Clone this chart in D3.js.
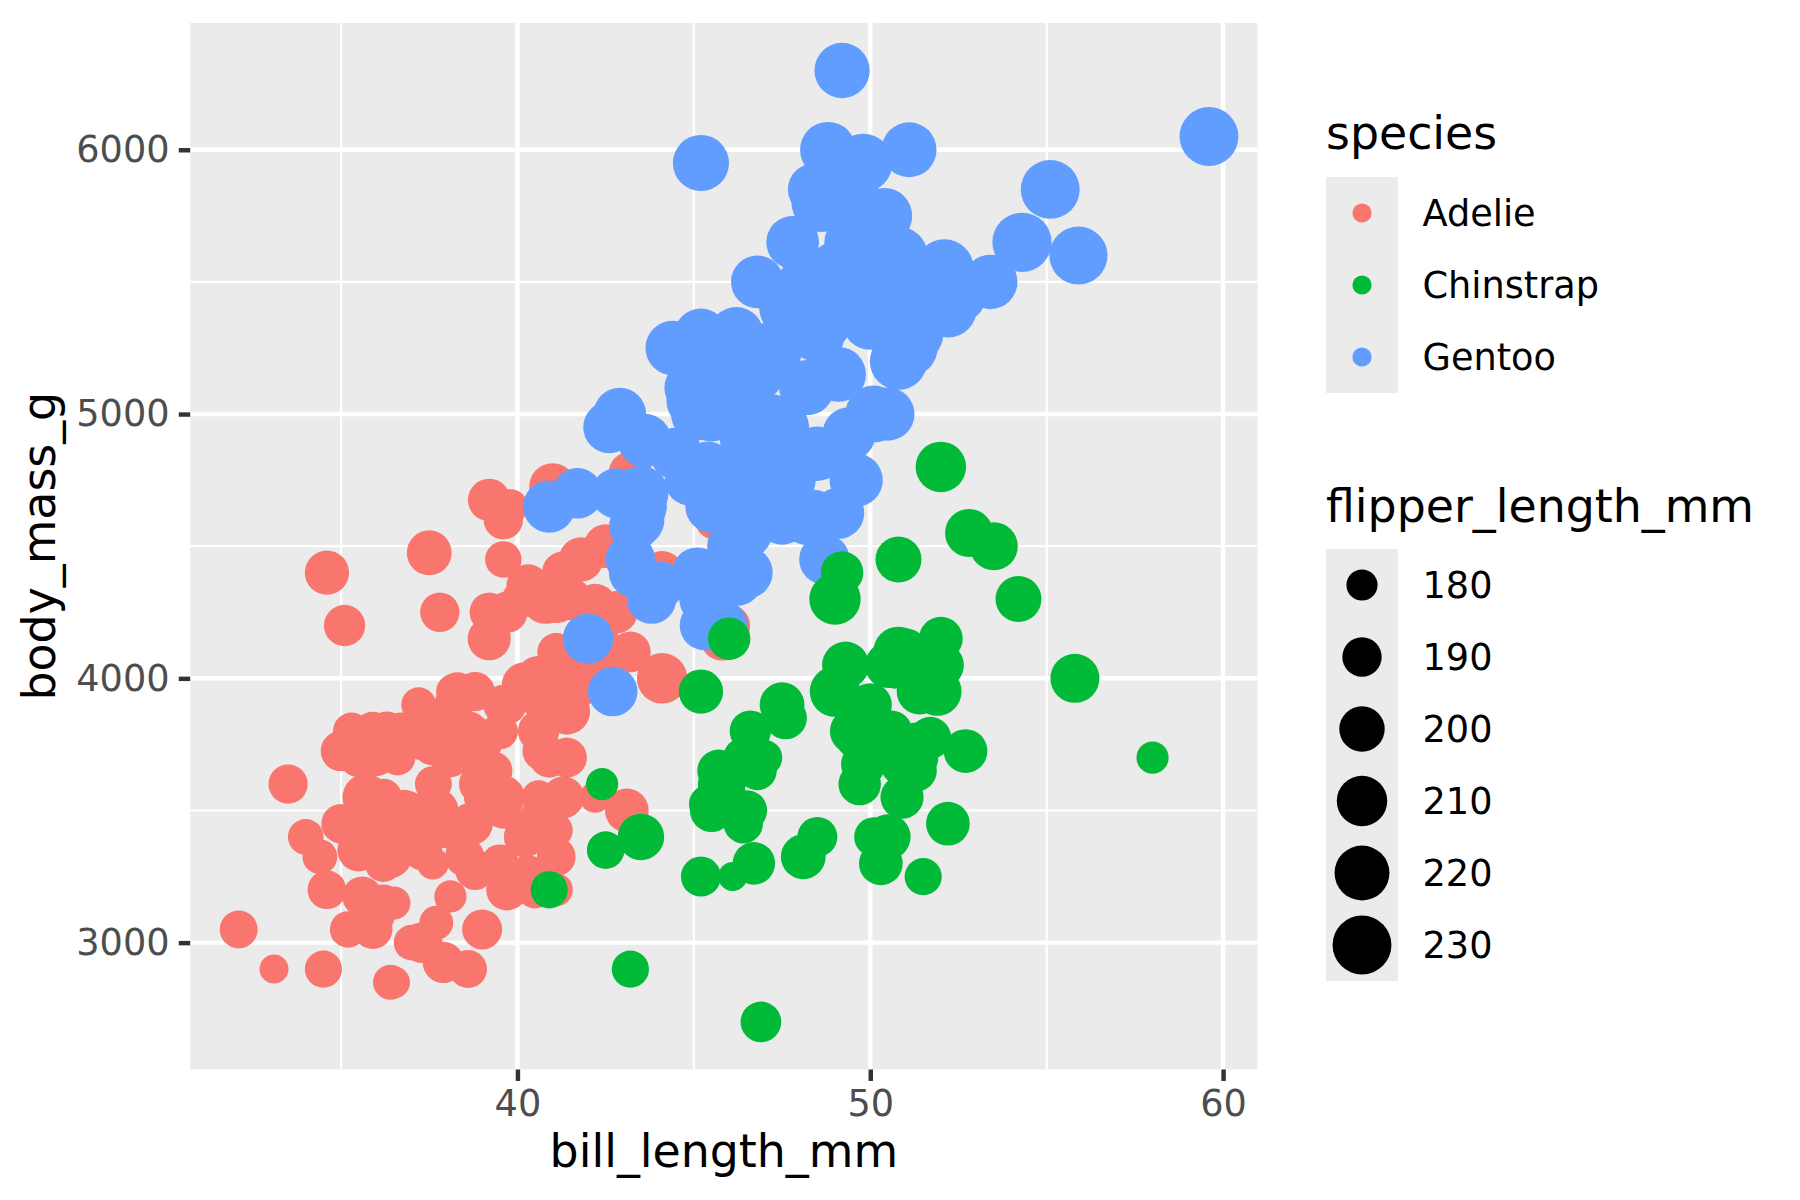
<!DOCTYPE html>
<html lang="en">
<head>
<meta charset="utf-8">
<title>penguins</title>
<script src="https://cdn.jsdelivr.net/npm/d3@7"></script>
<style>
body { margin: 0; background: #fff; }
svg { display: block; font-family: "DejaVu Sans", sans-serif; }
</style>
</head>
<body>
<script>
// [bill_length_mm, body_mass_g, flipper_length_mm]
var adelie = [
[39.1,3750,181],[39.5,3800,186],[40.3,3250,195],[36.7,3450,193],[39.3,3650,190],[38.9,3625,181],[39.2,4675,195],
[41.1,3200,182],[38.6,3800,191],[34.6,4400,198],[36.6,3700,185],[38.7,3450,195],[42.5,4500,197],[34.4,3325,184],[46.0,4200,194],[37.8,3400,174],
[37.7,3600,180],[35.9,3800,189],[38.2,3950,185],[38.8,3800,180],[35.3,3800,187],[40.6,3550,183],[40.5,3200,187],[37.9,3150,172],[40.5,3950,180],[39.5,3250,178],
[37.2,3900,178],[39.5,3300,188],[40.9,3900,184],[36.4,3325,195],[39.2,4150,196],[38.8,3950,190],[42.2,3550,180],[37.6,3300,181],[39.8,4650,184],[36.5,3150,182],
[40.8,3900,195],[36.0,3100,186],[44.1,4400,196],[37.0,3000,185],[39.6,4600,190],[41.1,3425,182],[36.0,3450,190],[42.3,4150,191],[39.6,3500,186],
[40.1,4300,188],[35.0,3450,190],[42.0,4050,200],[34.5,2900,187],[41.4,3700,191],[39.0,3550,186],[40.6,3800,193],[36.5,2850,181],[37.6,3750,194],[35.7,3150,185],
[41.3,4400,195],[37.6,3600,185],[41.1,4050,192],[36.4,2850,184],[41.6,3950,192],[35.5,3350,195],[41.1,4100,188],[35.9,3050,190],[41.8,4450,198],[33.5,3600,190],
[39.7,3900,190],[39.6,3550,196],[45.8,4150,197],[35.5,3700,190],[42.8,4250,195],[40.9,3700,191],[37.2,3900,184],[36.2,3550,187],[42.1,4000,195],[34.6,3200,189],
[42.9,4700,196],[36.7,3800,187],[35.1,4200,193],[37.3,3350,191],[41.3,3550,194],[36.3,3800,190],[36.9,3500,189],[38.3,3950,189],[38.9,3600,190],[35.7,3550,202],
[41.1,4300,205],[34.0,3400,185],[39.6,4450,186],[36.2,3300,187],[40.8,4300,208],[38.1,3700,190],[40.3,4350,196],[33.1,2900,178],[43.2,4100,192],[35.0,3725,192],
[41.0,4725,203],[37.7,3075,183],[37.8,4250,190],[37.9,2925,193],[39.7,3550,184],[38.6,3750,199],[38.2,3900,190],[38.1,3175,181],[43.2,4775,197],[38.1,3825,198],
[45.6,4600,191],[39.7,3200,193],[42.2,4275,197],[39.6,3900,191],[42.7,4075,196],[38.6,2900,188],[37.3,3775,199],[35.7,3350,189],[41.1,3325,189],[36.2,3150,187],
[37.7,3500,198],[40.2,3450,176],[41.4,3875,202],[35.2,3050,186],[40.6,4000,199],[38.8,3275,191],[41.5,4300,195],[39.0,3050,191],[44.1,4000,210],[38.5,3325,190],
[43.1,3500,197],[36.8,3500,193],[37.5,4475,199],[38.1,3425,187],[41.1,3900,190],[35.6,3175,191],[40.2,3975,200],[37.0,3400,185],[39.7,4250,193],[40.2,3400,193],
[40.6,3475,187],[32.1,3050,188],[40.7,3725,190],[37.3,3000,192],[39.0,3650,185],[39.2,4250,190],[36.6,3475,184],[36.0,3450,195],[37.8,3750,193],[36.0,3700,187],
[41.5,4000,201]
];

var gentoo = [
[46.1,4500,211],[50.0,5700,230],[48.7,4450,210],[50.0,5700,218],[47.6,5400,215],[46.5,4550,210],[45.4,4800,211],[46.7,5200,219],[43.3,4400,209],[46.8,5150,215],
[40.9,4650,214],[49.0,5550,216],[45.5,4650,214],[48.4,5850,213],[45.8,4200,210],[49.3,5850,217],[42.0,4150,210],[49.2,6300,221],[46.2,4800,209],[48.7,5350,222],
[50.2,5700,218],[45.1,5000,215],[46.5,4400,213],[46.3,5050,215],[42.9,5000,215],[46.1,5100,215],[47.8,5650,215],[48.2,4600,210],[50.0,5550,220],
[47.3,5250,222],[42.8,4700,209],[45.1,5050,207],[59.6,6050,230],[49.1,5150,220],[48.4,5400,220],[42.6,4950,213],[44.4,5250,219],[44.0,4350,208],[48.7,5350,208],
[42.7,3950,208],[49.6,5700,225],[45.3,4300,210],[49.6,4750,216],[50.5,5550,222],[43.6,4900,217],[45.5,4200,210],[50.5,5400,225],[44.9,5100,213],[45.2,5300,215],
[46.6,4850,210],[48.5,5300,220],[45.1,4400,210],[50.1,5000,225],[46.5,4900,217],[45.0,5050,220],[43.8,4300,208],[45.5,5000,220],[43.2,4450,208],[50.4,5550,224],
[45.3,4200,208],[46.2,5300,221],[45.7,4400,214],[54.3,5650,231],[45.8,4700,219],[49.8,5700,230],[49.5,5800,229],[43.5,4700,220],[50.7,5550,223],
[47.7,4750,216],[46.4,5000,221],[48.2,5100,221],[46.5,5200,217],[46.4,4700,216],[48.6,5800,230],[47.5,4600,209],[51.1,6000,220],[45.2,4750,215],[45.2,5950,223],
[49.1,4625,212],[52.5,5450,221],[47.4,4725,212],[50.0,5350,224],[44.9,4750,212],[50.8,5600,228],[43.4,4600,218],[51.3,5300,218],[47.5,4875,212],[52.1,5550,230],
[47.5,4950,218],[52.2,5400,228],[45.5,4750,212],[49.5,5650,224],[44.5,4850,214],[50.8,5200,226],[49.4,4925,216],[46.9,4875,222],[48.4,4625,203],[51.1,5250,225],
[48.5,4850,219],[55.9,5600,228],[47.2,4975,215],[49.1,5500,228],[46.8,5500,215],[41.7,4700,210],[53.4,5500,219],[43.3,4575,208],[48.1,5500,209],
[50.5,5000,216],[49.8,5950,229],[43.5,4650,213],[51.5,5500,230],[46.2,4375,217],[55.1,5850,230],[48.8,6000,222],[47.2,4925,214],[46.8,4850,215],
[50.4,5750,222],[45.2,5200,212],[49.9,5400,213]
];

var chinstrap = [
[46.5,3500,192],[50.0,3900,196],[51.3,3650,193],[45.4,3525,188],[52.7,3725,197],[45.2,3950,198],[46.1,3250,178],[51.3,3750,197],[46.0,4150,195],[51.3,3700,198],
[46.6,3800,193],[51.7,3775,194],[47.0,3700,185],[52.0,4050,201],[45.9,3575,190],[50.5,4050,201],[50.3,3300,197],[58.0,3700,181],[46.4,3450,190],[49.2,4400,195],
[42.4,3600,181],[48.5,3400,191],[43.2,2900,187],[50.6,3800,193],[46.7,3300,195],[52.0,4150,197],[50.5,3400,200],[49.5,3800,200],[46.4,3700,191],[52.8,4550,205],
[40.9,3200,187],[54.2,4300,201],[42.5,3350,187],[51.0,4100,203],[49.7,3600,195],[47.5,3900,199],[47.6,3850,195],[52.0,4800,210],[46.9,2700,192],[53.5,4500,205],
[49.0,3950,210],[46.2,3650,187],[50.9,3550,196],[45.5,3500,196],[50.9,3675,196],[50.8,4450,201],[50.1,3400,190],[49.0,4300,212],[51.5,3250,187],[49.8,3675,198],
[48.1,3325,199],[51.4,3950,201],[45.7,3600,193],[50.7,4050,203],[42.5,3350,187],[52.2,3450,197],[45.2,3250,191],[49.3,4050,203],[50.2,3800,202],[45.6,3525,194],
[51.9,3950,206],[46.8,3650,189],[45.7,3650,195],[55.8,4000,207],[43.5,3400,202],[49.6,3775,193],[50.8,4100,210],[50.2,3775,198]
];

var speciesNames = ["Adelie", "Chinstrap", "Gentoo"];
var speciesColors = ["#F8766D", "#00BA38", "#619CFF"];
var xMajor = [40, 50, 60], xMinor = [35, 45, 55];
var yMajor = [3000, 4000, 5000, 6000], yMinor = [3500, 4500, 5500];
var sizeBreaks = [180, 190, 200, 210, 220, 230];

var W = 1800, H = 1200;
var pLeft = 190.2, pRight = 1257.5, pTop = 22.9, pBottom = 1069.5;
var px = 300 / 72;            // pt -> px at 300 dpi
var lwd = 300 / 96;           // R lwd unit -> px

var all = adelie.concat(gentoo, chinstrap);

// ggplot default 5% expansion
var xr = d3.extent(all, function(d){ return d[0]; });
var yr = d3.extent(all, function(d){ return d[1]; });
var xe = (xr[1] - xr[0]) * 0.05, ye = (yr[1] - yr[0]) * 0.05;

var xScale = d3.scaleLinear().domain([xr[0] - xe, xr[1] + xe]).range([pLeft, pRight]);
var yScale = d3.scaleLinear().domain([yr[0] - ye, yr[1] + ye]).range([pBottom, pTop]);
var color = d3.scaleOrdinal().domain(speciesNames).range(speciesColors);

// size: area_pal(range = c(1, 6)) on rescaled flipper length
var fr = d3.extent(all, function(d){ return d[2]; });
var rescale = d3.scaleLinear().domain(fr).range([0, 1]);
var sizeScale = d3.scaleSqrt().domain([0, 1]).range([1, 6]);
function radius(size) {
  // shape 19: radius = 0.375 * fontsize, plus half the stroke
  var fontsize = size * 2.845276 + 0.5 * 3.7795 / 2;
  return 0.375 * fontsize * px + 0.5 * 3.7795 / 2 * lwd / 2;
}
function r(v) { return radius(sizeScale(rescale(v))); }

var svg = d3.select("body").append("svg")
  .attr("width", W).attr("height", H);

svg.append("rect").attr("width", W).attr("height", H).attr("fill", "#fff");

// panel
svg.append("rect")
  .attr("x", pLeft).attr("y", pTop)
  .attr("width", pRight - pLeft).attr("height", pBottom - pTop)
  .attr("fill", "#EBEBEB");

var grid = svg.append("g").attr("stroke", "#fff").attr("fill", "none");
grid.selectAll(".xminor").data(xMinor).enter().append("line")
  .attr("x1", function(d){ return xScale(d); }).attr("x2", function(d){ return xScale(d); })
  .attr("y1", pTop).attr("y2", pBottom).attr("stroke-width", 0.25 * 2.845276 * lwd);
grid.selectAll(".yminor").data(yMinor).enter().append("line")
  .attr("y1", function(d){ return yScale(d); }).attr("y2", function(d){ return yScale(d); })
  .attr("x1", pLeft).attr("x2", pRight).attr("stroke-width", 0.25 * 2.845276 * lwd);
grid.selectAll(".xmajor").data(xMajor).enter().append("line")
  .attr("x1", function(d){ return xScale(d); }).attr("x2", function(d){ return xScale(d); })
  .attr("y1", pTop).attr("y2", pBottom).attr("stroke-width", 0.5 * 2.845276 * lwd);
grid.selectAll(".ymajor").data(yMajor).enter().append("line")
  .attr("y1", function(d){ return yScale(d); }).attr("y2", function(d){ return yScale(d); })
  .attr("x1", pLeft).attr("x2", pRight).attr("stroke-width", 0.5 * 2.845276 * lwd);

// points, in data order: Adelie, Gentoo, Chinstrap
var groups = [["Adelie", adelie], ["Gentoo", gentoo], ["Chinstrap", chinstrap]];
groups.forEach(function(g) {
  svg.append("g").selectAll("circle")
    .data(g[1]).enter().append("circle")
    .attr("cx", function(d){ return xScale(d[0]); })
    .attr("cy", function(d){ return yScale(d[1]); })
    .attr("r", function(d){ return r(d[2]); })
    .attr("fill", color(g[0]));
});

// axes
var tickLen = 2.75 * px, tickPad = 2.2 * px;
var xAxis = d3.axisBottom(xScale).tickValues(xMajor).tickSize(tickLen).tickPadding(tickPad)
  .tickFormat(d3.format("d"));
var yAxis = d3.axisLeft(yScale).tickValues(yMajor).tickSize(tickLen).tickPadding(tickPad)
  .tickFormat(d3.format("d"));

function styleAxis(g) {
  g.select(".domain").remove();
  g.selectAll(".tick line").attr("stroke", "#333333").attr("stroke-width", 0.5 * 2.845276 * lwd);
  g.selectAll(".tick text").attr("fill", "#4D4D4D").attr("font-size", 8.8 * px)
    .attr("font-family", "DejaVu Sans");
}
svg.append("g").attr("transform", "translate(0," + pBottom + ")").call(xAxis).call(styleAxis);
svg.append("g").attr("transform", "translate(" + pLeft + ",0)").call(yAxis).call(styleAxis);

// axis titles
svg.append("text")
  .attr("x", (pLeft + pRight) / 2).attr("y", 1167)
  .attr("text-anchor", "middle").attr("font-size", 11 * px).attr("fill", "#000")
  .text("bill_length_mm");
svg.append("text")
  .attr("transform", "translate(55," + ((pTop + pBottom) / 2) + ") rotate(-90)")
  .attr("text-anchor", "middle").attr("font-size", 11 * px).attr("fill", "#000")
  .text("body_mass_g");

// legends
var legX = 1326, keyW = 72;

var lg1 = svg.append("g");
lg1.append("text").attr("x", legX).attr("y", 149)
  .attr("font-size", 11 * px).attr("fill", "#000").text("species");
lg1.append("rect").attr("x", legX).attr("y", 177)
  .attr("width", keyW).attr("height", keyW * speciesNames.length).attr("fill", "#EBEBEB");
var k1 = lg1.selectAll(".key").data(speciesNames).enter().append("g")
  .attr("transform", function(d, i){ return "translate(" + legX + "," + (177 + i * keyW) + ")"; });
k1.append("circle").attr("cx", keyW / 2).attr("cy", keyW / 2)
  .attr("r", radius(1.5)).attr("fill", function(d){ return color(d); });
k1.append("text").attr("x", 96.5).attr("y", keyW / 2 + 13.4)
  .attr("font-size", 8.8 * px).attr("fill", "#000").text(function(d){ return d; });

var lg2 = svg.append("g");
lg2.append("text").attr("x", legX).attr("y", 521.5)
  .attr("font-size", 11 * px).attr("fill", "#000").text("flipper_length_mm");
lg2.append("rect").attr("x", legX).attr("y", 549)
  .attr("width", keyW).attr("height", keyW * sizeBreaks.length).attr("fill", "#EBEBEB");
var k2 = lg2.selectAll(".key").data(sizeBreaks).enter().append("g")
  .attr("transform", function(d, i){ return "translate(" + legX + "," + (549 + i * keyW) + ")"; });
k2.append("circle").attr("cx", keyW / 2).attr("cy", keyW / 2)
  .attr("r", function(d){ return r(d); }).attr("fill", "#000");
k2.append("text").attr("x", 96.5).attr("y", keyW / 2 + 13.4)
  .attr("font-size", 8.8 * px).attr("fill", "#000").text(function(d){ return d; });
</script>
</body>
</html>
